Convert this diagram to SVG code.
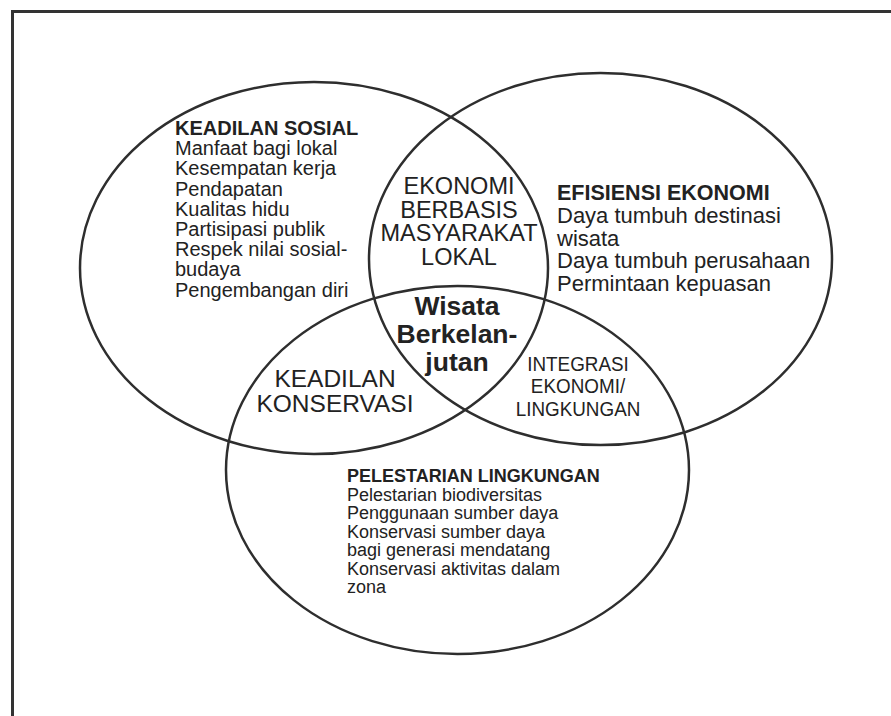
<svg xmlns="http://www.w3.org/2000/svg" width="891" height="716" viewBox="0 0 891 716">
<style>
.ring{fill:none;stroke:#2e2e2e;stroke-width:2.5}
.frame{fill:none;stroke:#333;stroke-width:3}
text{font-family:"Liberation Sans",Arial,sans-serif;fill:#222}
.h{font-weight:bold}
.s20{font-size:20px}
.s22{font-size:22px}
.s18{font-size:18px}
.mid{text-anchor:middle}
</style>
<rect width="891" height="716" fill="#fff"/>
<path class="frame" d="M12.5,716 V11.5 H891"/>
<g id="connectors"></g>
<g id="keadilan-sosial">
<ellipse class="ring" cx="314" cy="268" rx="234" ry="186"/>
<text class="s20" x="175" y="135"><tspan class="h">KEADILAN SOSIAL</tspan><tspan x="175" dy="20.2">Manfaat bagi lokal</tspan><tspan x="175" dy="20.2">Kesempatan kerja</tspan><tspan x="175" dy="20.2">Pendapatan</tspan><tspan x="175" dy="20.2">Kualitas hidu</tspan><tspan x="175" dy="20.2">Partisipasi publik</tspan><tspan x="175" dy="20.2">Respek nilai sosial-</tspan><tspan x="175" dy="20.2">budaya</tspan><tspan x="175" dy="20.2">Pengembangan diri</tspan></text>
</g>
<g id="efisiensi-ekonomi">
<ellipse class="ring" cx="600.5" cy="259" rx="231.5" ry="186"/>
<text class="h" style="font-size:21.5px" x="557" y="199.5">EFISIENSI EKONOMI</text>
<text class="s22" x="557" y="223"><tspan x="557">Daya tumbuh destinasi</tspan><tspan x="557" dy="22.7">wisata</tspan><tspan x="557" dy="22.7">Daya tumbuh perusahaan</tspan><tspan x="557" dy="22.7">Permintaan kepuasan</tspan></text>
</g>
<g id="pelestarian-lingkungan">
<ellipse class="ring" cx="457.5" cy="470" rx="231.5" ry="184"/>
<text class="s18" x="347" y="482"><tspan class="h">PELESTARIAN LINGKUNGAN</tspan><tspan x="347" dy="18.5">Pelestarian biodiversitas</tspan><tspan x="347" dy="18.5">Penggunaan sumber daya</tspan><tspan x="347" dy="18.5">Konservasi sumber daya</tspan><tspan x="347" dy="18.5">bagi generasi mendatang</tspan><tspan x="347" dy="18.5">Konservasi aktivitas dalam</tspan><tspan x="347" dy="18.5">zona</tspan></text>
</g>
<g id="ekonomi-berbasis">
<text class="mid" style="font-size:23.5px" x="459" y="194"><tspan x="459">EKONOMI</tspan><tspan x="459" dy="23.6">BERBASIS</tspan><tspan x="459" dy="23.6">MASYARAKAT</tspan><tspan x="459" dy="23.6">LOKAL</tspan></text>
</g>
<g id="wisata-berkelanjutan">
<text class="mid h" style="font-size:26.5px" x="457" y="315"><tspan x="457">Wisata</tspan><tspan x="457" dy="28">Berkelan-</tspan><tspan x="457" dy="28">jutan</tspan></text>
</g>
<g id="keadilan-konservasi">
<text class="mid" style="font-size:24.5px" x="335" y="387">KEADILAN</text>
<text class="mid" style="font-size:24.5px" x="335" y="412">KONSERVASI</text>
</g>
<g id="integrasi">
<text class="mid" style="font-size:20.5px" transform="translate(578,371) scale(0.92,1)" x="0" y="0"><tspan x="0">INTEGRASI</tspan><tspan x="0" dy="22.5">EKONOMI/</tspan><tspan x="0" dy="22.5">LINGKUNGAN</tspan></text>
</g>
</svg>
